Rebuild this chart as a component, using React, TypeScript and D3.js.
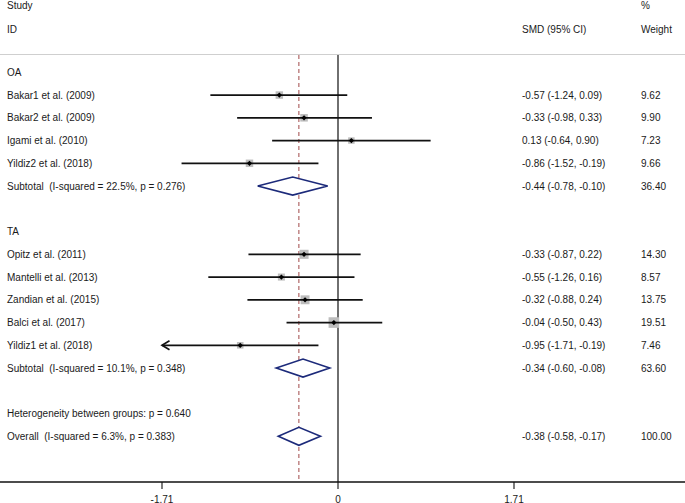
import React from "react";
import * as d3 from "d3";

const W = 685;
const H = 503;

const oaStudies = ["Bakar1 et al. (2009)", "Bakar2 et al. (2009)", "Igami et al. (2010)", "Yildiz2 et al. (2018)"];
const oaEst = [-0.57, -0.33, 0.13, -0.86];
const oaLo = [-1.24, -0.98, -0.64, -1.52];
const oaHi = [0.09, 0.33, 0.9, -0.19];
const oaWeight = [9.62, 9.9, 7.23, 9.66];
const oaSubtotal = { label: "Subtotal  (I-squared = 22.5%, p = 0.276)", est: -0.44, lo: -0.78, hi: -0.1, w: 36.4 };

const taStudies = ["Opitz et al. (2011)", "Mantelli et al. (2013)", "Zandian et al. (2015)", "Balci et al. (2017)", "Yildiz1 et al. (2018)"];
const taEst = [-0.33, -0.55, -0.32, -0.04, -0.95];
const taLo = [-0.87, -1.26, -0.88, -0.5, -1.71];
const taHi = [0.22, 0.16, 0.24, 0.43, -0.19];
const taWeight = [14.3, 8.57, 13.75, 19.51, 7.46];
const taSubtotal = { label: "Subtotal  (I-squared = 10.1%, p = 0.348)", est: -0.34, lo: -0.6, hi: -0.08, w: 63.6 };

const heterogeneity = "Heterogeneity between groups: p = 0.640";
const overall = { label: "Overall  (I-squared = 6.3%, p = 0.383)", est: -0.38, lo: -0.58, hi: -0.17, w: 100.0 };

const groupNames = ["OA", "TA"];
const axisTicks = [-1.71, 0, 1.71];
const xDomain = [-1.71, 1.71];

type Row =
  | { kind: "header"; label: string }
  | { kind: "study"; label: string; est: number; lo: number; hi: number; w: number }
  | { kind: "sub"; label: string; est: number; lo: number; hi: number; w: number }
  | { kind: "text"; label: string }
  | { kind: "blank" };

function buildRows(): Row[] {
  const rows: Row[] = [];
  rows.push({ kind: "header", label: groupNames[0] });
  oaStudies.forEach((s, i) => rows.push({ kind: "study", label: s, est: oaEst[i], lo: oaLo[i], hi: oaHi[i], w: oaWeight[i] }));
  rows.push({ kind: "sub", ...oaSubtotal });
  rows.push({ kind: "blank" });
  rows.push({ kind: "header", label: groupNames[1] });
  taStudies.forEach((s, i) => rows.push({ kind: "study", label: s, est: taEst[i], lo: taLo[i], hi: taHi[i], w: taWeight[i] }));
  rows.push({ kind: "sub", ...taSubtotal });
  rows.push({ kind: "blank" });
  rows.push({ kind: "text", label: heterogeneity });
  rows.push({ kind: "sub", ...overall });
  return rows;
}

const fmt = (v: number) => v.toFixed(2);

export default function App() {
  const rows = buildRows();
  const x = d3.scaleLinear().domain(xDomain).range([162, 514]);
  const y = d3.scaleLinear().domain([0, 1]).range([72.3, 95.05]);
  const axisY = 482;
  const topY = 55;
  const font = "'Liberation Sans', Arial, Helvetica, sans-serif";
  const fs = 10;
  const textColor = "#1a1a1a";
  const diamondColor = "#1c2a7a";
  const colEst = 522;
  const colW = 641;
  const labelX = 7;

  return (
    <svg
      width={W}
      height={H}
      style={{ position: "absolute", left: 0, top: 0, background: "#fff" }}
      fontFamily={font}
      fontSize={fs}
    >
      <rect x={0} y={0} width={W} height={H} fill="#fff" />
      {/* Header */}
      <text x={labelX} y={5} dy="0.35em" fill={textColor}>Study</text>
      <text x={labelX} y={29.5} dy="0.35em" fill={textColor}>ID</text>
      <text x={colEst} y={29.5} dy="0.35em" fill={textColor}>SMD (95% CI)</text>
      <text x={colW} y={5} dy="0.35em" fill={textColor}>%</text>
      <text x={colW} y={29.5} dy="0.35em" fill={textColor}>Weight</text>
      <line x1={0} x2={W} y1={54.5} y2={54.5} stroke="#cfcfcf" strokeWidth={1} />

      {/* Reference lines */}
      <line x1={x(0)} x2={x(0)} y1={topY} y2={axisY} stroke="#333" strokeWidth={1.4} />
      <line
        x1={x(overall.est)}
        x2={x(overall.est)}
        y1={topY}
        y2={axisY}
        stroke="#a04848"
        strokeWidth={1}
        strokeDasharray="4,3"
      />

      {rows.map((r, i) => {
        const yy = y(i);
        if (r.kind === "blank") return null;
        if (r.kind === "header" || r.kind === "text") {
          return (
            <text key={i} x={labelX} y={yy} dy="0.35em" fill={textColor}>
              {r.label}
            </text>
          );
        }
        const label = (
          <text x={labelX} y={yy} dy="0.35em" fill={textColor} style={{ whiteSpace: "pre" }} xmlSpace="preserve">
            {r.label}
          </text>
        );
        const right = (
          <g>
            <text x={colEst} y={yy} dy="0.35em" fill={textColor}>
              {`${fmt(r.est)} (${fmt(r.lo)}, ${fmt(r.hi)})`}
            </text>
            <text x={colW} y={yy} dy="0.35em" fill={textColor}>
              {fmt(r.w)}
            </text>
          </g>
        );
        if (r.kind === "study") {
          const side = 2.4 * Math.sqrt(r.w);
          const arrowLeft = r.lo <= xDomain[0];
          const x1 = x(Math.max(r.lo, xDomain[0]));
          const x2 = x(Math.min(r.hi, xDomain[1]));
          const cx = x(r.est);
          const m = 2.6;
          return (
            <g key={i}>
              {label}
              <rect x={cx - side / 2} y={yy - side / 2} width={side} height={side} fill="#bdbdbd" />
              <line x1={x1} x2={x2} y1={yy} y2={yy} stroke="#111" strokeWidth={1.7} />
              {arrowLeft && (
                <path
                  d={`M${x1 + 7.5},${yy - 4.5} L${x1},${yy} L${x1 + 7.5},${yy + 4.5}`}
                  fill="none"
                  stroke="#111"
                  strokeWidth={1.7}
                />
              )}
              <path
                d={`M${cx - m},${yy} L${cx},${yy - m} L${cx + m},${yy} L${cx},${yy + m} Z`}
                fill="#000"
              />
              {right}
            </g>
          );
        }
        // subtotal / overall diamond
        const h = 9;
        return (
          <g key={i}>
            {label}
            <path
              d={`M${x(r.lo)},${yy} L${x(r.est)},${yy - h} L${x(r.hi)},${yy} L${x(r.est)},${yy + h} Z`}
              fill="#fff"
              stroke={diamondColor}
              strokeWidth={1.6}
            />
            {right}
          </g>
        );
      })}

      {/* Axis */}
      <line x1={0} x2={W} y1={axisY} y2={axisY} stroke="#111" strokeWidth={1.3} />
      {axisTicks.map((t) => (
        <g key={t}>
          <line x1={x(t)} x2={x(t)} y1={axisY} y2={axisY + 7} stroke="#111" strokeWidth={1.1} />
          <text x={x(t)} y={axisY + 17} dy="0.35em" textAnchor="middle" fill={textColor}>
            {t === 0 ? "0" : fmt(t)}
          </text>
        </g>
      ))}
    </svg>
  );
}
